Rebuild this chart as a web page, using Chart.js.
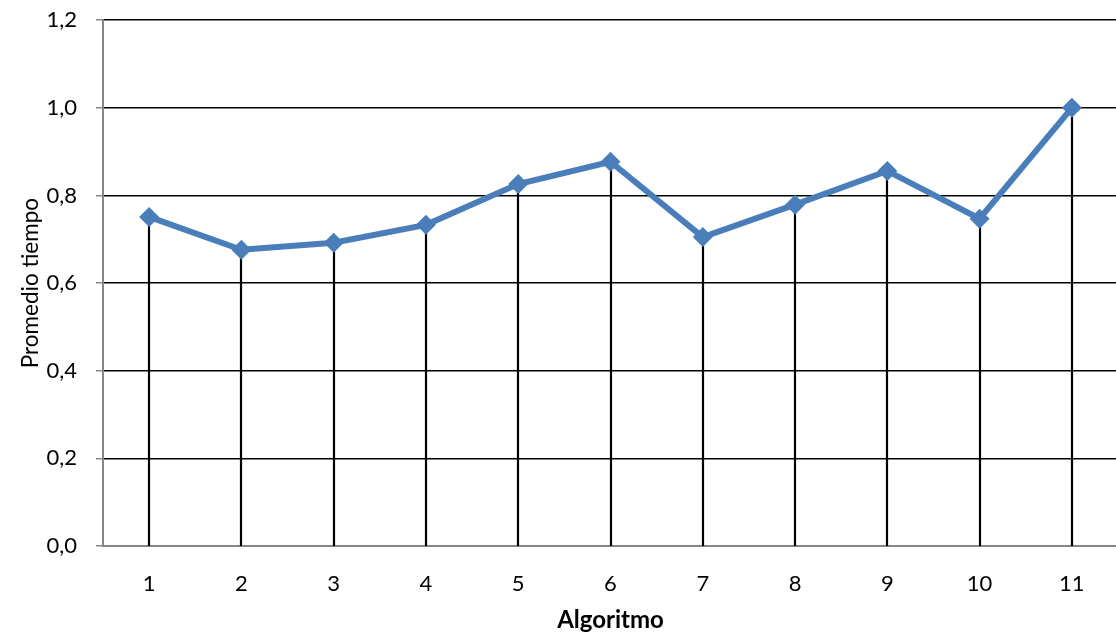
<!DOCTYPE html>
<html>
<head>
<meta charset="utf-8">
<script src="https://cdn.jsdelivr.net/npm/chart.js@4"></script>
<style>
  html, body { margin: 0; padding: 0; background: #fff; overflow: hidden; }
  #wrap { width: 1128px; height: 651px; margin-top: -12px; }
</style>
</head>
<body>
<div id="wrap"><canvas id="myChart"></canvas></div>
<script>
// data
const algoritmos = ['1', '2', '3', '4', '5', '6', '7', '8', '9', '10', '11'];
const promedioTiempo = [0.751, 0.676, 0.692, 0.733, 0.826, 0.877, 0.705, 0.779, 0.856, 0.747, 1.0];
const yTicks = [0, 0.2, 0.4, 0.6, 0.8, 1.0, 1.2];

const FONT = 'Lato, "Open Sans", sans-serif';

// vertical drop lines from every point down to the x axis
const dropLines = {
    id: 'dropLines',
    beforeDatasetsDraw(chart) {
        const ctx = chart.ctx;
        const meta = chart.getDatasetMeta(0);
        const bottom = chart.chartArea.bottom;
        ctx.save();
        ctx.strokeStyle = '#000';
        ctx.lineWidth = 2.2;
        meta.data.forEach(function(pt) {
            ctx.beginPath();
            ctx.moveTo(Math.round(pt.x), pt.y);
            ctx.lineTo(Math.round(pt.x), bottom);
            ctx.stroke();
        });
        ctx.restore();
    }
};

var ctx = document.getElementById('myChart');
const chart = new Chart(ctx, {
    type: 'line',
    data: {
        labels: algoritmos,
        datasets: [{
            label: 'Promedio tiempo',
            data: promedioTiempo,
            borderColor: '#4a7ebb',
            backgroundColor: '#4a7ebb',
            borderWidth: 6,
            pointStyle: 'rectRot',
            pointRadius: 10,
            pointHoverRadius: 10,
            pointBorderWidth: 0,
            tension: 0
        }]
    },
    options: {
        responsive: true,
        maintainAspectRatio: false,
        animation: false,
        events: [],
        layout: {padding: {top: 8, right: 0, bottom: 0, left: 0}},
        plugins: {legend: {display: false}, tooltip: {enabled: false}},
        scales: {
            x: {
                offset: true,
                afterFit: function(axis) { axis.height = 93; },
                grid: {display: false, drawTicks: false},
                border: {color: '#868686', width: 2},
                ticks: {color: '#000', font: {family: FONT, size: 22}, padding: 25},
                title: {display: true, text: 'Algoritmo', color: '#000',
                        font: {family: FONT, size: 24, weight: 'bold'}, padding: {top: 10, bottom: 4}}
            },
            y: {
                min: 0,
                max: 1.2,
                afterBuildTicks: function(axis) { axis.ticks = yTicks.map(v => ({value: v})); },
                afterFit: function(axis) { axis.width = 103; },
                grid: {color: '#000', lineWidth: 1.5, tickColor: '#868686', tickLength: 7},
                border: {color: '#868686', width: 2},
                ticks: {
                    color: '#000',
                    font: {family: FONT, size: 22},
                    padding: 19,
                    callback: function(v) { return Number(v).toFixed(1).replace('.', ','); }
                },
                title: {display: true, text: 'Promedio tiempo', color: '#000',
                        font: {family: FONT, size: 22.5}, padding: {top: 17, bottom: 4}}
            }
        }
    },
    plugins: [dropLines]
});
</script>
</body>
</html>
